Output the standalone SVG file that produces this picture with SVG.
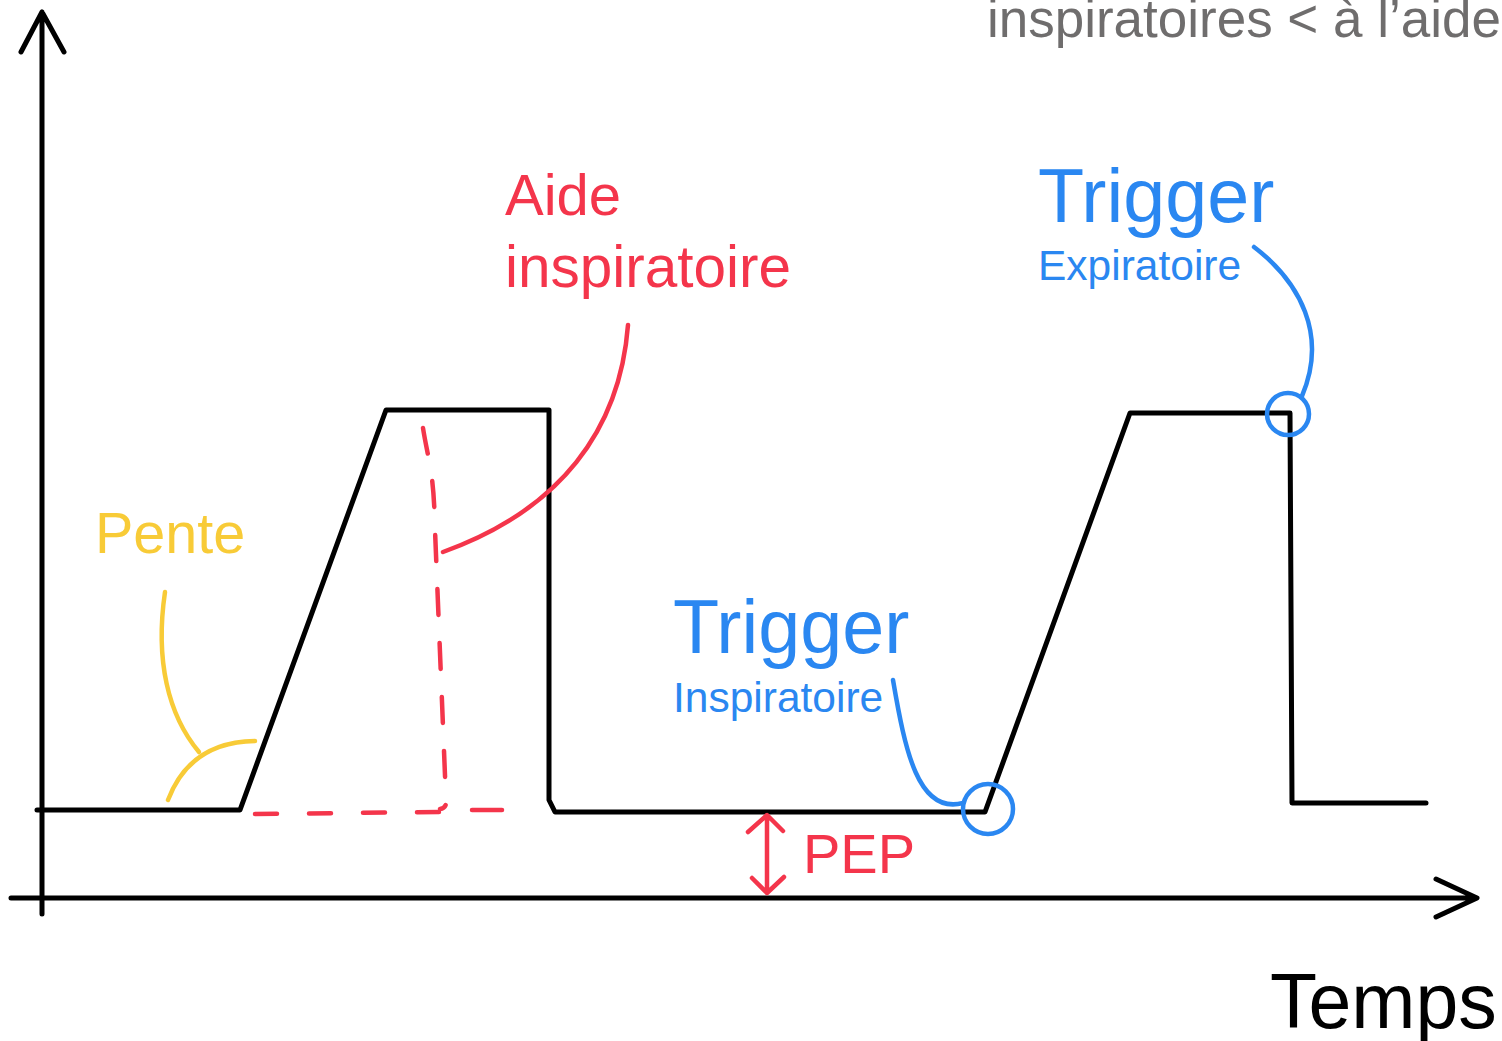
<svg xmlns="http://www.w3.org/2000/svg" width="1502" height="1041" viewBox="0 0 1502 1041">
<style>
text{font-family:"Liberation Sans",Arial,sans-serif}
.k{fill:none;stroke:#000;stroke-width:5;stroke-linecap:round;stroke-linejoin:round}
.r{fill:none;stroke:#f4354b;stroke-width:4.5;stroke-linecap:round;stroke-linejoin:round}
.y{fill:none;stroke:#f8cb37;stroke-width:4.5;stroke-linecap:round}
.b{fill:none;stroke:#2a87f1;stroke-width:4.5;stroke-linecap:round}
</style>
<rect width="1502" height="1041" fill="#fff"/>
<g id="axes">
<path class="k" d="M42,914 V12 M21,52 L42,12 L64,52"/>
<path class="k" d="M11,898 H1476 M1436,879 L1477,898 L1436,917"/>
</g>
<g id="connectors">
<path class="k" d="M37,810 H240 L386,410 H549 V800 L555,812 H985 L1130,413 H1290 L1292,803 H1426"/>
<path class="r" stroke-dasharray="26,28" d="M423,428 C428,460 434,470 435,530 L446,800 Q447,808 440,809"/>
<path class="r" stroke-dasharray="22,32" d="M255,814 L440,812"/>
<path class="r" d="M472,810 H502"/>
<path class="r" d="M628,325 C620,430 560,510 443,552"/>
<path class="y" d="M165,592 C155,660 168,715 199,752"/>
<path class="y" d="M168,800 Q190,742 255,741"/>
<circle class="b" cx="988" cy="809" r="25"/>
<path class="b" d="M893,680 C905,750 918,815 963,803"/>
<circle class="b" cx="1288" cy="414" r="21"/>
<path class="b" d="M1254,247 C1300,282 1328,335 1302,396"/>
<path class="r" d="M767,816 V893 M748,832 L767,815 L783,831 M752,878 L767,893 L784,877"/>
</g>
<g id="labels">
<text x="1501" y="37" font-size="53" fill="#6f6d6d" text-anchor="end">inspiratoires &lt; à l’aide</text>
<text x="505" y="215" font-size="58" fill="#f4354b">Aide</text>
<text x="505" y="287" font-size="58.5" fill="#f4354b">inspiratoire</text>
<text x="95" y="553" font-size="57.5" fill="#f8cb37">Pente</text>
<text x="673" y="653" font-size="75.5" fill="#2a87f1">Trigger</text>
<text x="673" y="712" font-size="42.5" fill="#2a87f1">Inspiratoire</text>
<text x="1038" y="222" font-size="75.5" fill="#2a87f1">Trigger</text>
<text x="1038" y="280" font-size="42.5" fill="#2a87f1">Expiratoire</text>
<text x="803" y="873" font-size="56" fill="#f4354b">PEP</text>
<text x="1270" y="1028" font-size="77" fill="#000">Temps</text>
</g>
</svg>
